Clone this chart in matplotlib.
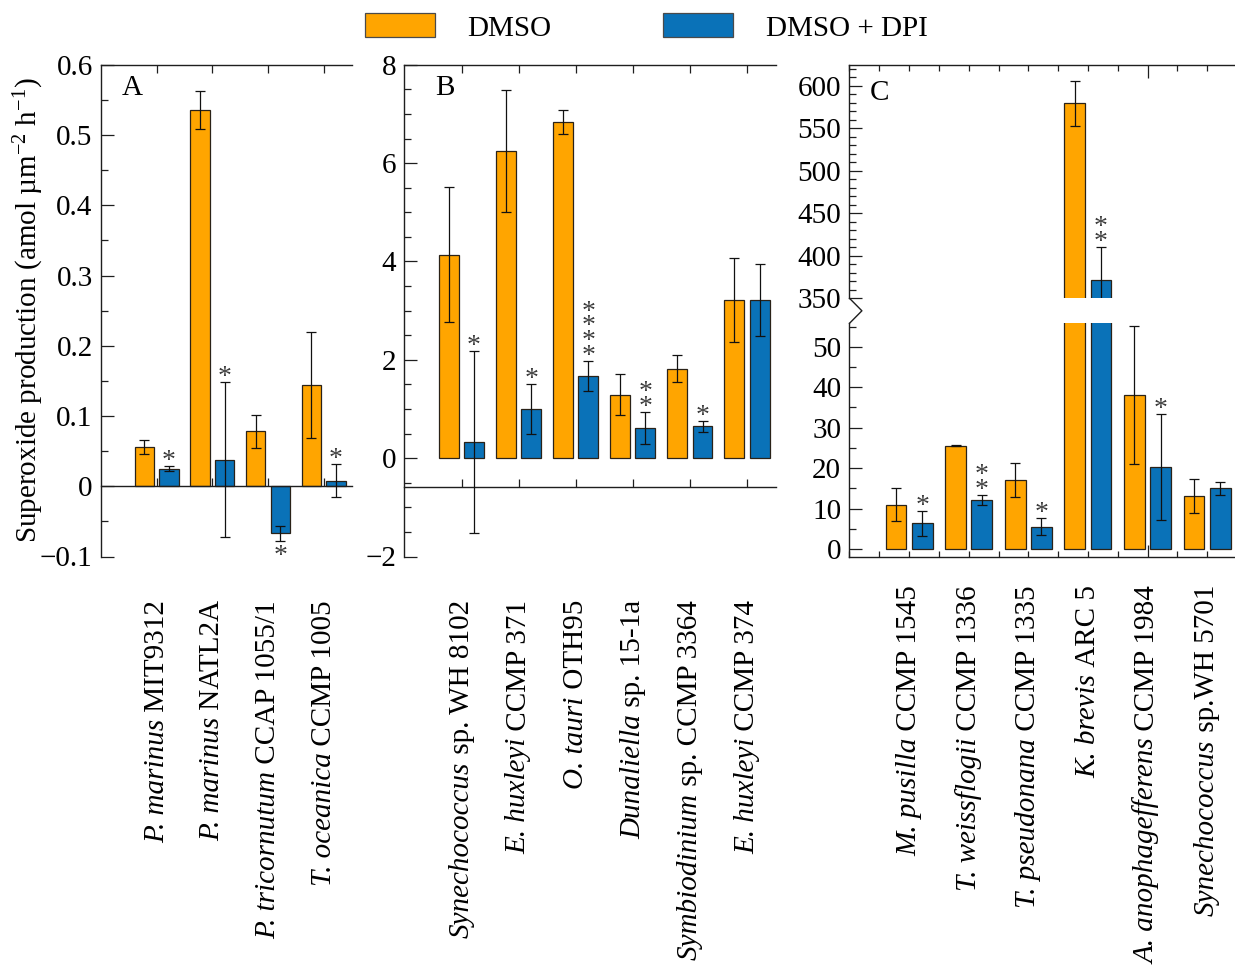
import matplotlib
matplotlib.use("Agg")
import matplotlib.pyplot as plt
from matplotlib.lines import Line2D
from matplotlib.patches import Rectangle
from matplotlib.ticker import MultipleLocator, FixedLocator
from matplotlib.transforms import blended_transform_factory
import numpy as np

# ---------------- data ----------------
species_a = ["P. marinus", "P. marinus", "P. tricornutum", "T. oceanica"]
strain_a = ["MIT9312", "NATL2A", "CCAP 1055/1", "CCMP 1005"]
dmso_a = [0.056, 0.535, 0.078, 0.144]
dmso_err_a = [0.0105, 0.027, 0.023, 0.075]
dpi_a = [0.025, 0.038, -0.067, 0.008]
dpi_err_a = [0.0037, 0.110, 0.011, 0.024]
stars_a = [1, 1, 1, 1]

species_b = ["Synechococcus", "E. huxleyi", "O. tauri", "Dunaliella",
             "Symbiodinium", "E. huxleyi"]
strain_b = ["sp. WH 8102", "CCMP 371", "OTH95", "sp. 15-1a",
            "sp. CCMP 3364", "CCMP 374"]
dmso_b = [4.14, 6.24, 6.84, 1.29, 1.82, 3.22]
dmso_err_b = [1.375, 1.24, 0.24, 0.42, 0.27, 0.855]
dpi_b = [0.33, 1.00, 1.67, 0.61, 0.65, 3.22]
dpi_err_b = [1.85, 0.515, 0.30, 0.33, 0.11, 0.73]
stars_b = [1, 1, 4, 2, 1, 0]

species_c = ["M. pusilla", "T. weissflogii", "T. pseudonana", "K. brevis",
             "A. anophagefferens", "Synechococcus"]
strain_c = ["CCMP 1545", "CCMP 1336", "CCMP 1335", "ARC 5",
            "CCMP 1984", "sp.WH 5701"]
dmso_c = [11.0, 25.5, 17.0, 579.2, 38.0, 13.1]
dmso_err_c = [4.0, 0.15, 4.2, 26.7, 17.1, 4.15]
dpi_c = [6.4, 12.2, 5.5, 371.5, 20.3, 15.0]
dpi_err_c = [3.1, 1.25, 2.05, 39.2, 13.1, 1.6]
stars_c = [1, 2, 1, 2, 1, 0]

yticks_a = [-0.1, 0, 0.1, 0.2, 0.3, 0.4, 0.5, 0.6]
yticks_b = [-2, 0, 2, 4, 6, 8]
yticks_c_hi = [350, 400, 450, 500, 550, 600]
yticks_c_lo = [0, 10, 20, 30, 40, 50]

series_names = ["DMSO", "DMSO + DPI"]

# ---------------- style ----------------
W, H, DPI = 1235, 966, 100
FS = 21
STAR_FS = 20
plt.rcParams.update({
    "font.family": "Liberation Serif",
    "mathtext.fontset": "custom",
    "mathtext.rm": "Liberation Serif",
    "mathtext.it": "Liberation Serif:italic",
    "mathtext.bf": "Liberation Serif:bold",
    "font.size": FS,
    "axes.unicode_minus": True,
})

ORANGE = "#FFA500"
BLUE = "#0A72B8"
EDGE = "#2a2218"
SPINE = "#1e1e1e"
STAR = "#3c3c3c"
OFF, WID = 0.22, 0.35
PX2PT = 72 / DPI

fig = plt.figure(figsize=(W / DPI, H / DPI), dpi=DPI)
renderer = fig.canvas.get_renderer()


def px_axes(l, t, r, b):
    return fig.add_axes([l / W, 1 - b / H, (r - l) / W, (b - t) / H])


def fx(x):
    return x / W


def fy(y):
    return 1 - y / H


def tick_label(v):
    if abs(v) < 1e-12:
        return "0"
    return f"{v:g}".replace("-", "\u2212")


def base_style(ax):
    for s in ax.spines.values():
        s.set_linewidth(1.0)
        s.set_color(SPINE)
    ax.spines["right"].set_visible(False)
    ax.tick_params(axis="both", which="both", direction="in", color=SPINE,
                   width=0.9, labelsize=FS, pad=6)
    ax.tick_params(axis="y", which="major", length=9)
    ax.tick_params(axis="y", which="minor", length=5)
    ax.tick_params(axis="y", right=False)
    ax.patch.set_alpha(0)


def draw_bars(ax, dmso, dmso_err, dpi, dpi_err):
    x = np.arange(1, len(dmso) + 1)
    ax.bar(x - OFF, dmso, WID, color=ORANGE, edgecolor=EDGE, linewidth=0.9, zorder=2)
    ax.bar(x + OFF, dpi, WID, color=BLUE, edgecolor=EDGE, linewidth=0.9, zorder=2)
    for xs, v, e in ((x - OFF, dmso, dmso_err), (x + OFF, dpi, dpi_err)):
        ax.errorbar(xs, v, yerr=e, fmt="none", ecolor="#111111", elinewidth=0.9,
                    capsize=3.6, capthick=0.9, zorder=3)


def draw_stars(ax, xs, vals, errs, counts, ylim=None):
    """Significance asterisks stacked above (or below, for negative bars) the cap."""
    for x, v, e, n in zip(xs, vals, errs, counts):
        if n == 0:
            continue
        sign = 1 if v >= 0 else -1
        cap = v + sign * e
        if ylim is not None and not (ylim[0] <= cap <= ylim[1]):
            continue
        if sign > 0:
            dy = 12 * PX2PT - 0.72 * STAR_FS
            ax.annotate("\n".join(["*"] * n), xy=(x, cap), xytext=(0, dy),
                        textcoords="offset points", ha="center", va="bottom",
                        fontsize=STAR_FS, color=STAR, linespacing=0.47,
                        zorder=4, annotation_clip=False)
        else:
            dy = -8 * PX2PT - 0.5 * STAR_FS
            ax.annotate("*", xy=(x, cap), xytext=(0, dy),
                        textcoords="offset points", ha="center", va="baseline",
                        fontsize=STAR_FS, color=STAR, zorder=4,
                        annotation_clip=False)


def draw_category_labels(ax, species, strains, top_px):
    """Vertical labels read bottom-to-top: italic species, then upright strain.
    The strain (end of the label) sits at the top; the species goes below it."""
    tr = blended_transform_factory(ax.transData, fig.transFigure)
    for i, (sp, st) in enumerate(zip(species, strains)):
        t_st = ax.text(i + 1, fy(top_px), "\u00a0" + st, transform=tr, rotation=90,
                       ha="center", va="top", fontsize=FS)
        bb = t_st.get_window_extent(renderer)
        ax.text(i + 1, bb.y0 / H, sp, transform=tr, rotation=90,
                ha="center", va="top", fontsize=FS, fontstyle="italic")


# ---------------- panel A ----------------
ax_a = px_axes(101, 64.8, 351.5, 556.5)
base_style(ax_a)
draw_bars(ax_a, dmso_a, dmso_err_a, dpi_a, dpi_err_a)
xa = np.arange(1, len(dmso_a) + 1)
draw_stars(ax_a, xa + OFF, dpi_a, dpi_err_a, stars_a)
ax_a.set_xlim(0, 4.5)
ax_a.set_ylim(-0.1, 0.6)
ax_a.spines["bottom"].set_position(("data", 0))
ax_a.set_yticks(yticks_a, [tick_label(v) for v in yticks_a])
ax_a.yaxis.set_minor_locator(MultipleLocator(0.05))
ax_a.set_xticks(xa)
ax_a.tick_params(axis="x", which="both", top=True, bottom=True,
                 labelbottom=False, labeltop=False, length=5.5)
draw_category_labels(ax_a, species_a, strain_a, 600)
ax_a.text(fx(122), fy(95), "A", transform=fig.transFigure, fontsize=FS,
          ha="left", va="baseline")

# ---------------- panel B ----------------
ax_b = px_axes(404.4, 64.8, 775.6, 556.5)
base_style(ax_b)
draw_bars(ax_b, dmso_b, dmso_err_b, dpi_b, dpi_err_b)
xb = np.arange(1, len(dmso_b) + 1)
draw_stars(ax_b, xb + OFF, dpi_b, dpi_err_b, stars_b)
ax_b.set_xlim(0, 6.5)
ax_b.set_ylim(-2, 8)
ax_b.spines["bottom"].set_position(("data", -0.595))
ax_b.set_yticks(yticks_b, [tick_label(v) for v in yticks_b])
ax_b.yaxis.set_minor_locator(MultipleLocator(0.5))
ax_b.set_xticks(xb)
ax_b.tick_params(axis="x", which="both", top=True, bottom=True,
                 labelbottom=False, labeltop=False, length=5.8)
draw_category_labels(ax_b, species_b, strain_b, 600)
ax_b.text(fx(435), fy(95), "B", transform=fig.transFigure, fontsize=FS,
          ha="left", va="baseline")

# ---------------- panel C (broken axis) ----------------
c_left, c_right = 849.5, 1235
c_xmax = (c_right - c_left) / 59.6
ax_ch = px_axes(c_left, 65, c_right, 298.3)
ax_cl = px_axes(c_left, 323.3, c_right, 556.7)
xc = np.arange(1, len(dmso_c) + 1)
half_steps = [v for v in np.arange(0, 6.51, 0.5) if abs(v - 5) > 1e-9]
for ax, lim in ((ax_ch, (350, 624.3)), (ax_cl, (-1.9, 55.8))):
    base_style(ax)
    draw_bars(ax, dmso_c, dmso_err_c, dpi_c, dpi_err_c)
    draw_stars(ax, xc + OFF, dpi_c, dpi_err_c, stars_c, ylim=lim)
    ax.set_xlim(0, c_xmax)
    ax.set_ylim(*lim)
    ax.xaxis.set_major_locator(FixedLocator([5]))
    ax.xaxis.set_minor_locator(FixedLocator(half_steps))
    ax.tick_params(axis="x", which="minor", length=4)
    ax.tick_params(axis="x", which="major", length=9)

ax_ch.spines["bottom"].set_visible(False)
ax_ch.tick_params(axis="x", which="both", top=True, bottom=False,
                  labelbottom=False, labeltop=False)
ax_ch.set_yticks(yticks_c_hi, [tick_label(v) for v in yticks_c_hi])
ax_ch.yaxis.set_minor_locator(MultipleLocator(10))

ax_cl.spines["top"].set_visible(False)
ax_cl.tick_params(axis="x", which="both", top=False, bottom=True,
                  labelbottom=False, labeltop=False)
ax_cl.set_yticks(yticks_c_lo, [tick_label(v) for v in yticks_c_lo])
ax_cl.yaxis.set_minor_locator(MultipleLocator(5))

draw_category_labels(ax_cl, species_c, strain_c, 585)
ax_ch.text(fx(870), fy(100), "C", transform=fig.transFigure, fontsize=FS,
           ha="left", va="baseline")

# break mark on the left spine of panel C
fig.add_artist(Line2D([fx(c_left), fx(c_left + 12.4), fx(c_left)],
                      [fy(298.3), fy(310.8), fy(323.3)],
                      transform=fig.transFigure, color=SPINE, linewidth=1.0))

# ---------------- legend ----------------
for (x0, x1), tx, name, col in (((365, 435), 467, series_names[0], ORANGE),
                                 ((663, 733), 766, series_names[1], BLUE)):
    fig.add_artist(Rectangle((fx(x0), fy(37)), (x1 - x0) / W, 24 / H,
                             transform=fig.transFigure, facecolor=col,
                             edgecolor="#4a4a4a", linewidth=0.9))
    fig.text(fx(tx), fy(36), name, ha="left", va="baseline", fontsize=FS)

# ---------------- y label ----------------
fig.text(fx(28.5), fy(310.5), r"Superoxide production (amol µm$^{-2}$ h$^{-1}$)",
         rotation=90, ha="center", va="center", fontsize=FS)

fig.savefig("out.png", dpi=DPI)
